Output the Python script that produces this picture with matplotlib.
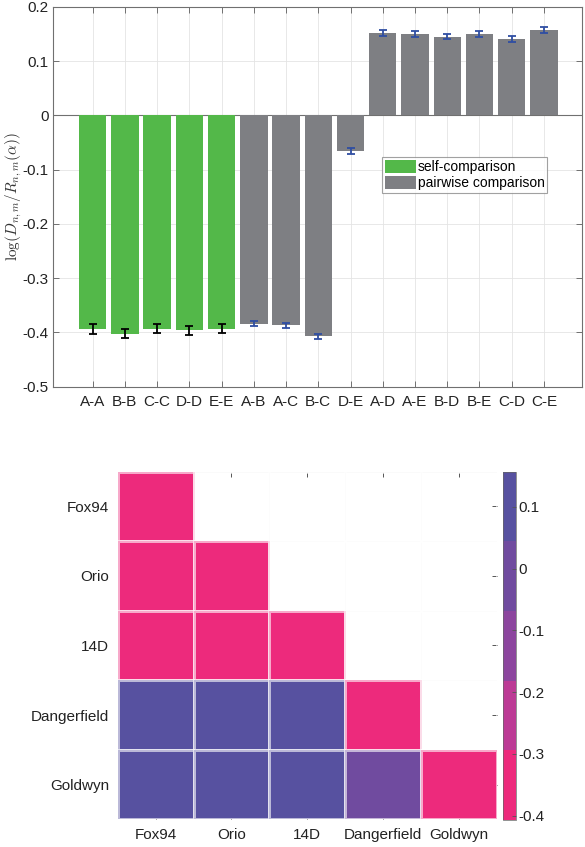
import numpy as np
import matplotlib
matplotlib.use('Agg')
import matplotlib.pyplot as plt
from matplotlib.colors import ListedColormap
from matplotlib.patches import Patch

plt.rcParams['font.family'] = ['Liberation Sans', 'DejaVu Sans']
plt.rcParams['mathtext.fontset'] = 'cm'
plt.rcParams['axes.unicode_minus'] = False

# bar chart data
pair_labels = ['A-A', 'B-B', 'C-C', 'D-D', 'E-E', 'A-B', 'A-C', 'B-C', 'D-E',
               'A-D', 'A-E', 'B-D', 'B-E', 'C-D', 'C-E']
pair_values = [-0.394, -0.402, -0.393, -0.396, -0.393, -0.384, -0.387, -0.407, -0.066,
               0.152, 0.150, 0.145, 0.150, 0.141, 0.157]
pair_errors = [0.009, 0.009, 0.008, 0.008, 0.008, 0.005, 0.005, 0.005, 0.005,
               0.005, 0.006, 0.005, 0.006, 0.005, 0.006]
n_self = 5

# heatmap data
datasets = ['Fox94', 'Orio', '14D', 'Dangerfield', 'Goldwyn']
letters = ['A', 'B', 'C', 'D', 'E']
band_colors = ['#ED2A7C', '#BC3A95', '#8C459E', '#704B9F', '#5751A0']

green = '#53B849'
grey = '#7E7F83'
axis_col = '#707070'


def fmt(v):
    v = 0.0 if abs(v) < 1e-9 else v
    return f'{v:g}'


fig = plt.figure(figsize=(5.85, 8.47), dpi=100)

# ---------------- top: bar chart ----------------
ax = fig.add_axes([0.0911, 0.5434, 0.9043, 0.4486])
x = np.arange(1, len(pair_labels) + 1)
colors = [green] * n_self + [grey] * (len(pair_labels) - n_self)
ax.axhline(0, color=axis_col, lw=0.8, zorder=1)
ax.bar(x, pair_values, width=0.85, color=colors, edgecolor='none', zorder=2)
ax.errorbar(x[:n_self], pair_values[:n_self], yerr=pair_errors[:n_self], fmt='none',
            ecolor='black', elinewidth=1.3, capsize=3, capthick=1.3, zorder=3)
ax.errorbar(x[n_self:], pair_values[n_self:], yerr=pair_errors[n_self:], fmt='none',
            ecolor='#2F4EA3', elinewidth=1.3, capsize=3, capthick=1.3, zorder=3)

ax.set_xlim(-0.22, 16.19)
ax.set_ylim(-0.5, 0.2)
ax.set_xticks(x)
ax.set_xticklabels(pair_labels, fontsize=11)
yt = np.round(np.arange(-0.5, 0.21, 0.1), 1)
ax.set_yticks(yt)
ax.set_yticklabels([fmt(v) for v in yt], fontsize=11)
ax.tick_params(direction='in', length=4, width=0.7, color=axis_col, top=True, right=True,
               labelcolor='#222222')
ax.tick_params(axis='x', pad=6)
ax.grid(True, color='#e4e4e4', lw=0.6)
ax.set_axisbelow(True)
for s in ax.spines.values():
    s.set_color(axis_col)
    s.set_linewidth(0.8)
ax.set_ylabel(r'$\log(D_{n,m}/R_{n,m}(\alpha))$', fontsize=11, color='#333333')
ax.yaxis.set_label_coords(-0.056, 0.5)

handles = [Patch(facecolor=green, edgecolor='none'), Patch(facecolor=grey, edgecolor='none')]
leg = ax.legend(handles, ['self-comparison', 'pairwise comparison'], loc='upper left',
                bbox_to_anchor=(0.622, 0.605), fontsize=10, frameon=True, fancybox=False,
                borderpad=0.2, labelspacing=0.15, handlelength=2.2, handleheight=1.05,
                handletextpad=0.15, borderaxespad=0)
leg.get_frame().set_edgecolor('#8a8a8a')
leg.get_frame().set_linewidth(0.8)

# ---------------- bottom: lower-triangle heatmap ----------------
lookup = dict(zip(pair_labels, pair_values))
n = len(datasets)
mat = np.full((n, n), np.nan)
for i in range(n):
    for j in range(i + 1):
        key = letters[j] + '-' + letters[i]
        mat[i, j] = lookup[key]
mat = np.ma.masked_invalid(mat)

cmap = ListedColormap(band_colors)
vmin, vmax = min(pair_values), max(pair_values)

hax = fig.add_axes([0.2012, 0.0327, 0.6479, 0.4104])
mesh = hax.pcolormesh(np.arange(n + 1) + 0.5, np.arange(n + 1) + 0.5, mat, cmap=cmap,
                      vmin=vmin, vmax=vmax, edgecolors=(1, 1, 1, 0.6), linewidth=0.8,
                      zorder=2)
hax.set_xlim(0.5, n + 0.5)
hax.set_ylim(n + 0.5, 0.5)
hax.set_xticks(np.arange(1, n + 1))
hax.set_yticks(np.arange(1, n + 1))
hax.set_xticklabels(datasets, fontsize=11)
hax.set_yticklabels(datasets, fontsize=11)
hax.set_xticks(np.arange(n + 1) + 0.5, minor=True)
hax.set_yticks(np.arange(n + 1) + 0.5, minor=True)
hax.grid(True, which='minor', color='#f3f3f3', lw=0.6)
hax.tick_params(which='minor', length=0)
hax.tick_params(which='major', direction='in', length=3.5, width=0.7, color='#555555',
                top=True, right=True, labeltop=False, labelright=False,
                labelcolor='#222222', pad=6)
hax.set_axisbelow(True)
for s in hax.spines.values():
    s.set_visible(False)

cax = fig.add_axes([0.8603, 0.0319, 0.0212, 0.4112])
cb = fig.colorbar(mesh, cax=cax)
cticks = np.round(np.arange(-0.4, 0.11, 0.1), 1)
cb.set_ticks(cticks)
cb.set_ticklabels([fmt(v) for v in cticks])
cb.ax.tick_params(direction='in', length=3, width=0.6, color='#555555', labelsize=11,
                  labelcolor='#222222', pad=2)
cb.outline.set_edgecolor('#666666')
cb.outline.set_linewidth(0.5)

fig.savefig('out.png', dpi=100)
plt.close(fig)
